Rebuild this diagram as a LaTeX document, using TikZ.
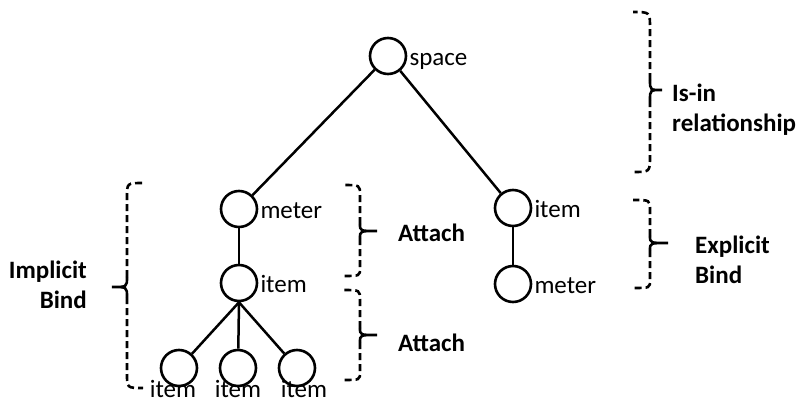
\documentclass[tikz,border=0pt]{standalone}
\usepackage{fontspec}
\setmainfont{Carlito}
\usetikzlibrary{calc}
\begin{document}
\begin{tikzpicture}[x=1pt,y=-1pt,
  nd/.style={circle, draw, line width=2.6pt, minimum size=36pt, inner sep=0pt},
  edge/.style={line width=2.5pt},
  lbl/.style={font=\fontsize{25}{28}\selectfont, inner sep=0pt},
  note/.style={font=\fontsize{25}{30}\selectfont\bfseries, inner sep=0pt},
  brc/.style={line width=2.6pt, dash pattern=on 7pt off 4pt},
  brctip/.style={line width=2.6pt}]
\useasboundingbox (0,0) rectangle (804,402);
% tree nodes
\node[nd] (space) at (388,56) {};
\node[nd] (meterL) at (239,209) {};
\node[nd] (itemL) at (239,283) {};
\node[nd] (b1) at (179,368) {};
\node[nd] (b2) at (238,368) {};
\node[nd] (b3) at (297,368) {};
\node[nd] (itemR) at (513,208) {};
\node[nd] (meterR) at (513,284) {};
% labels
\node[lbl, anchor=base west] (tspace) at ($(space.east)+(2,9)$) {space};
\node[lbl, anchor=base west] (tmeterL) at ($(meterL.east)+(2,9)$) {meter};
\node[lbl, anchor=base west] (titemL) at ($(itemL.east)+(2,9)$) {item};
\node[lbl, anchor=base west] (titemR) at ($(itemR.east)+(2,9)$) {item};
\node[lbl, anchor=base west] (tmeterR) at ($(meterR.east)+(2,9)$) {meter};
\node[lbl, anchor=base] (tb1) at (173,397) {item};
\node[lbl, anchor=base] (tb2) at (238,397) {item};
\node[lbl, anchor=base] (tb3) at (304,397) {item};
% edges
\draw[edge] (space) -- (meterL);
\draw[edge] (space) -- (itemR);
\draw[edge] (meterL) -- (itemL);
\draw[edge] (itemR) -- (meterR);
\draw[edge] (itemL.south) -- (b1);
\draw[edge] (itemL.south) -- (b2);
\draw[edge] (itemL.south) -- (b3);
% braces: solid tip curl, dashed arms
\draw[brctip] (650,80) .. controls (650,90) .. (662,90) .. controls (650,90) .. (650,100);
\draw[brc] (650,80) -- (650,28) .. controls (650,12) .. (633,12);
\draw[brc] (650,100) -- (650,156) .. controls (650,172) .. (633,172);
\draw[brctip] (360,224) .. controls (360,231) .. (377,231) .. controls (360,231) .. (360,238);
\draw[brc] (360,224) -- (360,195) .. controls (360,185) .. (343,185);
\draw[brc] (360,238) -- (360,268) .. controls (360,276) .. (343,276);
\draw[brctip] (360,328) .. controls (360,335) .. (377,335) .. controls (360,335) .. (360,342);
\draw[brc] (360,328) -- (360,300) .. controls (360,290) .. (343,290);
\draw[brc] (360,342) -- (360,372) .. controls (360,380) .. (343,380);
\draw[brctip] (650,236) .. controls (650,243) .. (668,243) .. controls (650,243) .. (650,250);
\draw[brc] (650,236) -- (650,210) .. controls (650,200) .. (633,200);
\draw[brc] (650,250) -- (650,280) .. controls (650,288) .. (633,288);
\draw[brctip] (127,277) .. controls (127,287) .. (112,287) .. controls (127,287) .. (127,297);
\draw[brc] (127,277) -- (127,197) .. controls (127,183) .. (143,183);
\draw[brc] (127,297) -- (127,374) .. controls (127,388) .. (143,388);
% notes
\node[note, anchor=base west, align=left] (isin) at (672,131) {Is-in\\relationship};
\node[note, anchor=base west] (att1) at (398,241) {Attach};
\node[note, anchor=base west] (att2) at (398,351) {Attach};
\node[note, anchor=base west, align=left] (expl) at (695,283) {Explicit\\Bind};
\node[note, anchor=base east, align=right] (impl) at (87,308) {Implicit\\Bind};
\end{tikzpicture}
\end{document}
